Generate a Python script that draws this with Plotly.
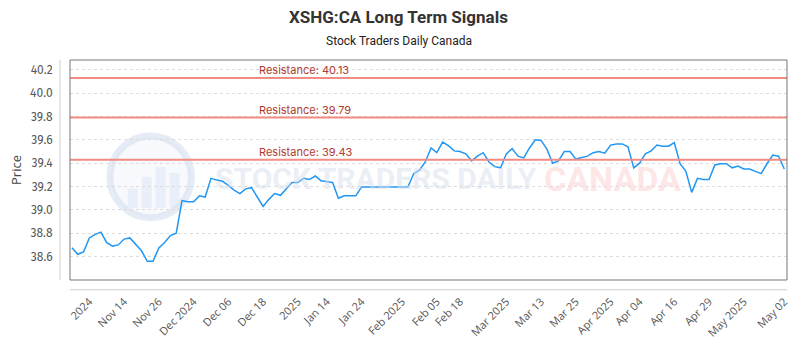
import plotly.graph_objects as go

# ---- data ----
prices = [
    38.675, 38.62, 38.64, 38.76, 38.79, 38.81, 38.72, 38.69, 38.70, 38.75,
    38.76, 38.70, 38.65, 38.56, 38.56, 38.675, 38.72, 38.78, 38.80, 39.08,
    39.07, 39.07, 39.12, 39.11, 39.27, 39.255, 39.245, 39.21, 39.17, 39.14,
    39.18, 39.19, 39.11, 39.03, 39.09, 39.14, 39.125, 39.18, 39.235, 39.235,
    39.27, 39.26, 39.29, 39.25, 39.245, 39.235, 39.10, 39.12, 39.12, 39.12,
    39.195, 39.195, 39.195, 39.195, 39.195, 39.195, 39.195, 39.195, 39.195, 39.31,
    39.34, 39.41, 39.53, 39.49, 39.58, 39.55, 39.505, 39.50, 39.48, 39.42,
    39.46, 39.49, 39.41, 39.37, 39.36, 39.48, 39.525, 39.46, 39.445, 39.53,
    39.60, 39.595, 39.52, 39.40, 39.42, 39.50, 39.50, 39.435, 39.445, 39.46,
    39.49, 39.50, 39.485, 39.555, 39.565, 39.565, 39.54, 39.36, 39.40, 39.48,
    39.505, 39.555, 39.545, 39.545, 39.575, 39.395, 39.33, 39.15, 39.27, 39.26,
    39.26, 39.385, 39.395, 39.395, 39.36, 39.375, 39.35, 39.35, 39.33, 39.31,
    39.395, 39.47, 39.46, 39.35,
]
x_index = list(range(len(prices)))

tick_positions = [3, 9, 15, 21, 27, 33, 39, 44, 50, 57, 63, 67, 75, 81, 87, 93, 98, 104, 110, 116, 123]
tick_labels = ["2024", "Nov 14", "Nov 26", "Dec 2024", "Dec 06", "Dec 18", "2025", "Jan 14",
               "Jan 24", "Feb 2025", "Feb 05", "Feb 18", "Mar 2025", "Mar 13", "Mar 25",
               "Apr 2025", "Apr 04", "Apr 16", "Apr 29", "May 2025", "May 02"]

resistance_levels = [40.13, 39.79, 39.43]
resistance_labels = ["Resistance: 40.13", "Resistance: 39.79", "Resistance: 39.43"]

title_text = "XSHG:CA Long Term Signals"
subtitle_text = "Stock Traders Daily Canada"

# ---- figure ----
fig = go.Figure()

fig.add_trace(go.Scatter(
    x=x_index, y=prices, mode="lines",
    line=dict(color="#2196f3", width=1.5),
    hoverinfo="skip", showlegend=False,
))

shapes = []
annotations = []

W, H = 720.0, 226.0
def px(xp):
    return (xp - 70) / W
def py(yp):
    return (286 - yp) / H

# watermark logo: faint circle with bars
shapes.append(dict(type="circle", xref="paper", yref="paper",
                   x0=px(110), x1=px(192), y0=py(222), y1=py(138),
                   line=dict(color="rgba(205,218,236,0.5)", width=7),
                   fillcolor="rgba(232,238,248,0.35)", layer="below"))
for bx0, bx1, btop in [(128, 138, 192), (142, 152, 180), (156, 166, 170), (170, 180, 176)]:
    shapes.append(dict(type="rect", xref="paper", yref="paper",
                       x0=px(bx0), x1=px(bx1), y0=py(212), y1=py(btop),
                       line=dict(width=0), fillcolor="rgba(215,226,242,0.45)", layer="below"))

annotations.append(dict(text="<b>STOCK TRADERS DAILY</b>", xref="paper", yref="paper",
                        x=px(214), y=py(182), xanchor="left", yanchor="middle",
                        showarrow=False,
                        font=dict(family="Roboto, sans-serif", size=30,
                                  color="rgba(214,222,236,0.5)")))
annotations.append(dict(text="<b>CANADA</b>", xref="paper", yref="paper",
                        x=px(544), y=py(182), xanchor="left", yanchor="middle",
                        showarrow=False,
                        font=dict(family="Roboto, sans-serif", size=34,
                                  color="rgba(250,205,205,0.5)")))

for lvl, lab in zip(resistance_levels, resistance_labels):
    shapes.append(dict(type="line", xref="paper", yref="y", x0=0, x1=1, y0=lvl, y1=lvl,
                       line=dict(color="#f28b82", width=2)))
    annotations.append(dict(text=lab, xref="paper", yref="y", x=px(258), y=lvl,
                            xanchor="left", yanchor="bottom", showarrow=False, yshift=-1,
                            font=dict(family="Inter, Open Sans, sans-serif", size=11,
                                      color="#b03a2e")))

# plot frame
shapes.append(dict(type="rect", xref="paper", yref="paper", x0=0, x1=1, y0=0, y1=1,
                   line=dict(color="#777777", width=1)))
# separate y axis line and x axis line
shapes.append(dict(type="line", xref="paper", yref="paper",
                   x0=px(60), x1=px(60), y0=0, y1=1,
                   line=dict(color="#cccccc", width=1)))
shapes.append(dict(type="line", xref="paper", yref="paper",
                   x0=0, x1=1, y0=py(296), y1=py(296),
                   line=dict(color="#cccccc", width=1)))

annotations.append(dict(text="<b>" + title_text + "</b>", xref="paper", yref="paper",
                        x=px(400), y=py(16), xanchor="center", yanchor="middle",
                        showarrow=False,
                        font=dict(family="Roboto, sans-serif", size=17, color="#333333")))
annotations.append(dict(text=subtitle_text, xref="paper", yref="paper",
                        x=px(400), y=py(40), xanchor="center", yanchor="middle",
                        showarrow=False,
                        font=dict(family="Roboto, sans-serif", size=12, color="#222222")))

fig.update_layout(
    width=800, height=350,
    margin=dict(l=70, r=10, t=60, b=64, pad=0),
    paper_bgcolor="white", plot_bgcolor="white",
    shapes=shapes, annotations=annotations,
    xaxis=dict(
        range=[-0.34, 123.46], tickmode="array", tickvals=tick_positions, ticktext=tick_labels,
        tickangle=-45, showgrid=False, zeroline=False, showline=False,
        ticks="outside", ticklen=10, tickcolor="rgba(0,0,0,0)",
        tickfont=dict(family="Open Sans, sans-serif", size=11, color="#555555"),
    ),
    yaxis=dict(
        range=[38.3997, 40.2833], tickmode="array",
        tickvals=[38.6, 38.8, 39.0, 39.2, 39.4, 39.6, 39.8, 40.0, 40.2],
        ticktext=["38.6", "38.8", "39.0", "39.2", "39.4", "39.6", "39.8", "40.0", "40.2"],
        showgrid=True, gridcolor="#dddddd", griddash="dot", gridwidth=1,
        zeroline=False, showline=False,
        ticks="outside", ticklen=14, tickcolor="rgba(0,0,0,0)",
        tickfont=dict(family="Fira Sans, Inter, sans-serif", size=12, color="#555555"),
        title=dict(text="Price", standoff=5,
                   font=dict(family="Open Sans, sans-serif", size=13, color="#444444")),
    ),
)

fig.write_html("out.html")
